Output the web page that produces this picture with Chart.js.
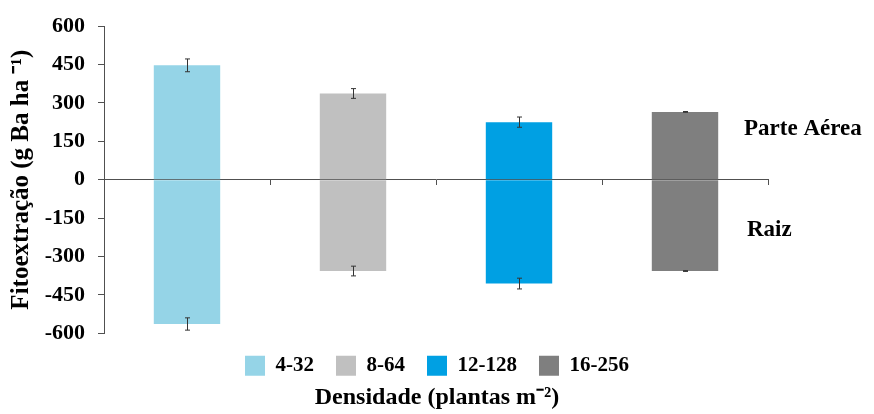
<!DOCTYPE html>
<html lang="pt">

<head>
  <meta charset="UTF-8">
  <title>Fitoextração de Ba</title>
  <script src="https://cdn.jsdelivr.net/npm/chart.js@4"></script>
  <style>
    html, body { margin: 0; padding: 0; background: #fff; }
    .chartdiv { width: 874px; height: 414px; }
  </style>
</head>

<body>

  <div class="chartdiv">
    <canvas id="myChart"></canvas>
  </div>

  <script>
    // densidades (plantas m-2)
    const densidades = ['4-32', '8-64', '12-128', '16-256'];
    const cores = ['#95D4E7', '#C0C0C0', '#00A0E3', '#7F7F7F'];

    // fitoextração (g Ba ha-1) e erro padrão
    const parteAerea = [447, 337, 225, 265];
    const erroAerea = [25, 19, 20, 1.5];
    const raiz = [-564, -357, -406, -357];
    const erroRaiz = [24, 19, 21, 1.5];

    const yTicks = [-600, -450, -300, -150, 0, 150, 300, 450, 600];

    const serif = '"Liberation Serif", "Times New Roman", serif';
    const axisColor = '#505050';

    /* barras de erro em cima de cada barra */
    const errorBars = {
      id: 'errorBars',
      afterDatasetsDraw(chart) {
        const ctx = chart.ctx;
        const y = chart.scales.y;
        ctx.save();
        ctx.strokeStyle = '#333';
        ctx.lineWidth = 1;
        chart.data.datasets.forEach(function (ds, i) {
          const meta = chart.getDatasetMeta(i);
          meta.data.forEach(function (bar, j) {
            const v = ds.data[j];
            const e = ds.erros[j];
            const x = Math.round(bar.x) + 0.5;
            const y1 = y.getPixelForValue(v + e);
            const y2 = y.getPixelForValue(v - e);
            ctx.beginPath();
            ctx.moveTo(x, y1); ctx.lineTo(x, y2);
            ctx.moveTo(x - 2.5, y1); ctx.lineTo(x + 2.5, y1);
            ctx.moveTo(x - 2.5, y2); ctx.lineTo(x + 2.5, y2);
            ctx.stroke();
          });
        });
        ctx.restore();
      }
    };

    /* rótulos "Parte Aérea" e "Raiz" à direita */
    const sideLabels = {
      id: 'sideLabels',
      afterDraw(chart) {
        const ctx = chart.ctx;
        const y = chart.scales.y;
        ctx.save();
        ctx.fillStyle = '#000';
        ctx.font = 'bold 23px ' + serif;
        ctx.textAlign = 'left';
        ctx.textBaseline = 'middle';
        ctx.fillText('Parte Aérea', 744, y.getPixelForValue(196));
        ctx.fillText('Raiz', 747, y.getPixelForValue(-196));
        ctx.restore();
      }
    };

    const data = {
      labels: densidades,
      datasets: [
        {
          label: 'Parte Aérea',
          data: parteAerea,
          erros: erroAerea,
          backgroundColor: cores,
          yAxisID: 'y'
        }, {
          label: 'Raiz',
          data: raiz,
          erros: erroRaiz,
          backgroundColor: cores,
          yAxisID: 'y'
        }
      ]
    };

    const config = {
      type: 'bar',
      data,
      plugins: [errorBars, sideLabels],
      options: {
        responsive: true,
        maintainAspectRatio: false,
        animation: false,
        layout: {
          padding: { top: 26, right: 0, left: 0, bottom: 0 }
        },
        datasets: {
          bar: { categoryPercentage: 1, barPercentage: 0.4 }
        },
        scales: {
          x: {
            stacked: true,
            position: { y: 0 },
            grid: {
              offset: true,
              drawOnChartArea: false,
              drawTicks: true,
              tickLength: 5,
              color: axisColor
            },
            border: { color: axisColor, width: 1 },
            ticks: { display: false }
          },
          y: {
            stacked: true,
            position: 'left',
            min: -600,
            max: 600,
            afterBuildTicks(scale) {
              scale.ticks = yTicks.map(v => ({ value: v }));
            },
            afterFit(scale) {
              scale.width = 104;
            },
            grid: {
              drawOnChartArea: false,
              drawTicks: true,
              tickLength: 6,
              color: axisColor
            },
            border: { color: axisColor, width: 1 },
            ticks: {
              padding: 13,
              color: '#000',
              font: { family: serif, size: 22, weight: 'bold' }
            },
            title: {
              display: true,
              text: 'Fitoextração (g Ba ha ⁻¹)',
              color: '#000',
              padding: { top: 7, bottom: 0 },
              font: { family: serif, size: 25, weight: 'bold' }
            }
          },
          // espaço vazio à direita para os rótulos
          margem: {
            type: 'linear',
            position: 'right',
            afterFit(scale) {
              scale.width = 106;
            },
            grid: { display: false, drawTicks: false },
            border: { display: false },
            ticks: { display: false }
          }
        },
        plugins: {
          tooltip: { enabled: false },
          legend: {
            position: 'bottom',
            maxHeight: 50,
            onClick: null,
            labels: {
              boxWidth: 20,
              boxHeight: 20,
              padding: 22,
              color: '#000',
              font: { family: serif, size: 21, weight: 'bold' },
              generateLabels() {
                return densidades.map((d, i) => ({
                  text: d,
                  fillStyle: cores[i],
                  strokeStyle: cores[i],
                  lineWidth: 0,
                  datasetIndex: 0
                }));
              }
            }
          },
          title: {
            display: true,
            position: 'bottom',
            text: 'Densidade (plantas m⁻²)',
            color: '#000',
            padding: { top: 0, bottom: 2 },
            font: { family: serif, size: 24, weight: 'bold' }
          }
        }
      }
    };

    var myChart = new Chart(document.getElementById('myChart'), config);
  </script>

</body>

</html>
